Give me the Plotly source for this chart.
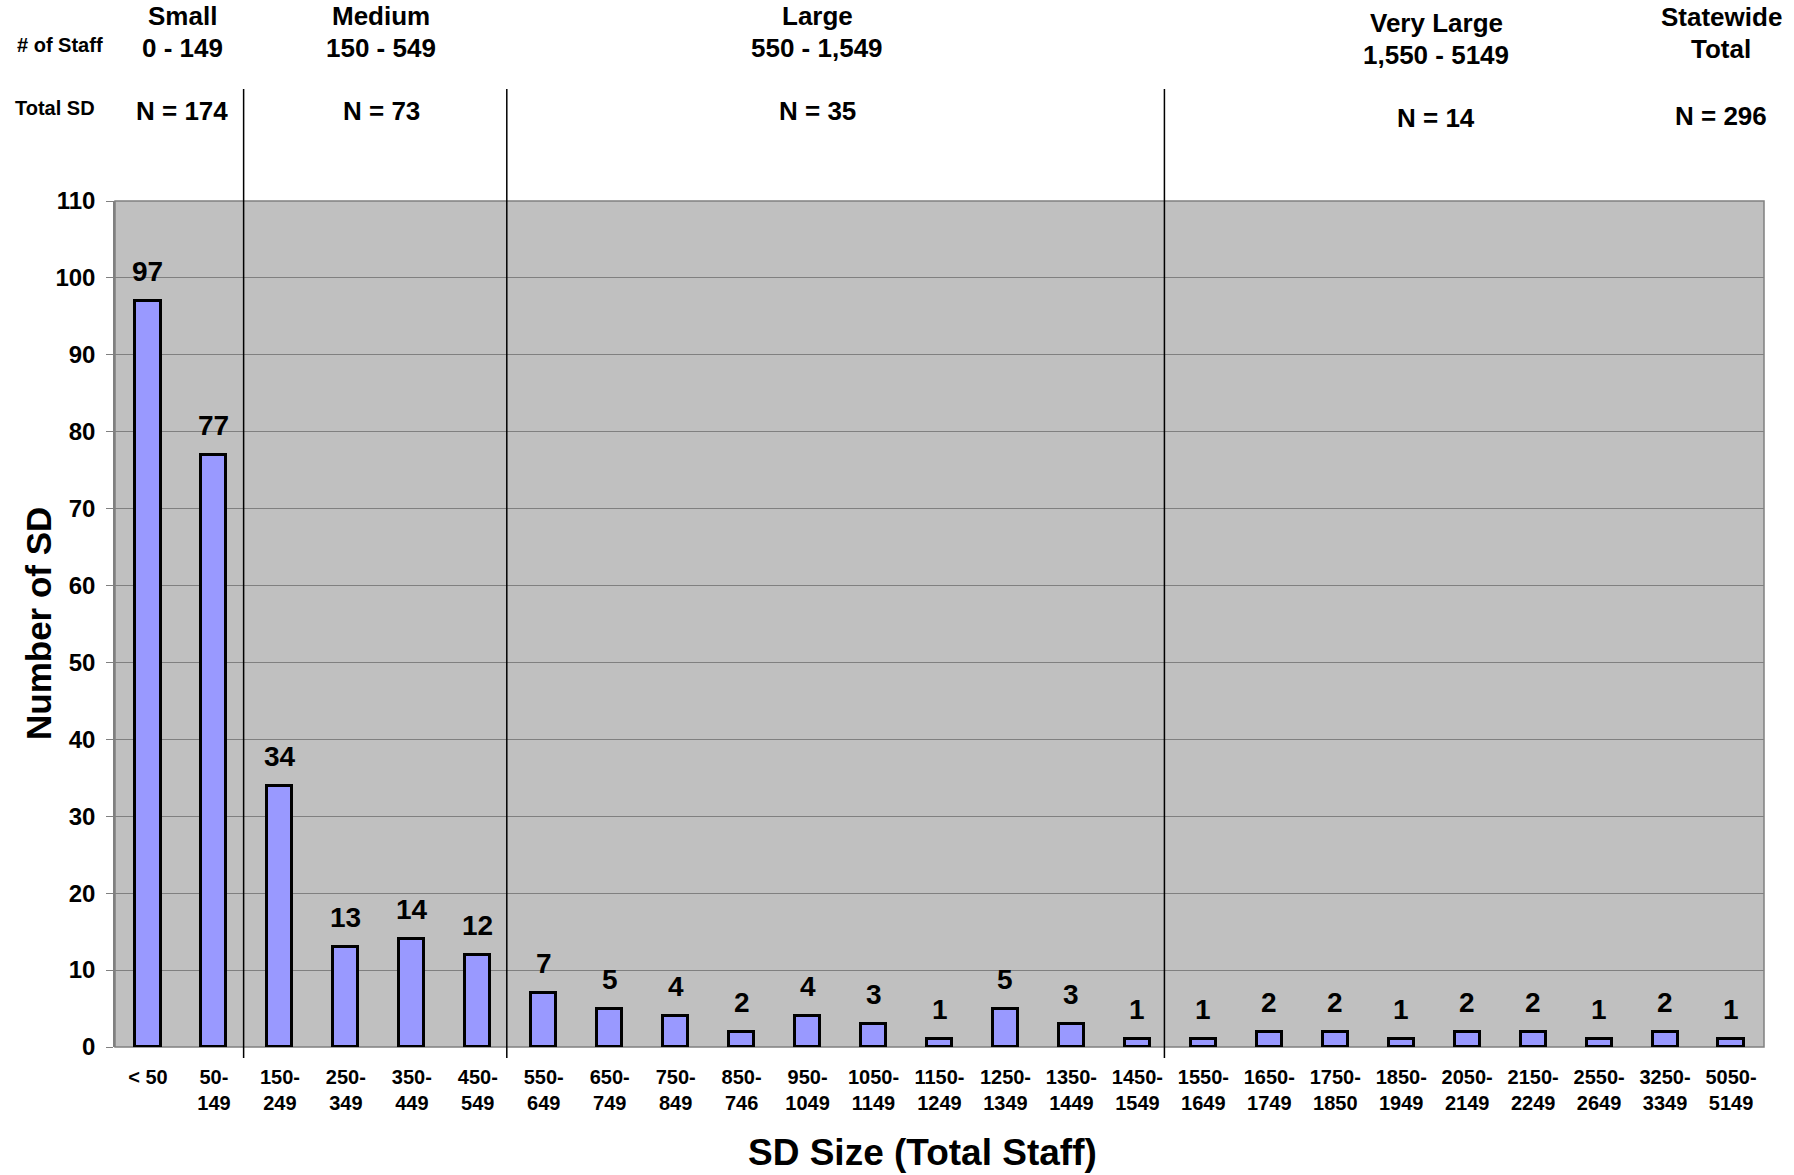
import plotly.graph_objects as go

# School districts grouped by total staff size
size_bins = [
    "< 50", "50-<br>149", "150-<br>249", "250-<br>349", "350-<br>449", "450-<br>549",
    "550-<br>649", "650-<br>749", "750-<br>849", "850-<br>746", "950-<br>1049",
    "1050-<br>1149", "1150-<br>1249", "1250-<br>1349", "1350-<br>1449", "1450-<br>1549",
    "1550-<br>1649", "1650-<br>1749", "1750-<br>1850", "1850-<br>1949", "2050-<br>2149",
    "2150-<br>2249", "2550-<br>2649", "3250-<br>3349", "5050-<br>5149",
]
district_counts = [97, 77, 34, 13, 14, 12, 7, 5, 4, 2, 4, 3, 1, 5, 3, 1,
                   1, 2, 2, 1, 2, 2, 1, 2, 1]

# Size groups: name, staff range, number of districts
group_names = ["Small", "Medium", "Large", "Very Large", "Statewide"]
group_ranges = ["0 - 149", "150 - 549", "550 - 1,549", "1,550 - 5149", "Total"]
group_totals = ["N = 174", "N = 73", "N = 35", "N = 14", "N = 296"]
# Boundaries between groups, in category positions
group_breaks = [1.45, 5.44, 15.41]

W, H = 1794, 1175
L, R, T, B = 115, 30, 201, 128
PW, PH = W - L - R, H - T - B

def px(xp):
    return (xp - L) / PW

def py(yp):
    return (H - B - yp) / PH

ARIAL = "Liberation Sans, Arial, sans-serif"

fig = go.Figure()
fig.add_trace(go.Bar(
    x=list(range(len(size_bins))),
    y=district_counts,
    width=0.38,
    marker=dict(color="#9999FF", line=dict(color="#000000", width=3)),
    hoverinfo="skip",
))

annotations = []
# value labels above bars
for i, v in enumerate(district_counts):
    annotations.append(dict(
        x=i, y=v, xref="x", yref="y", text=f"<b>{v}</b>", showarrow=False,
        yanchor="bottom", yshift=12, font=dict(family=ARIAL, size=28, color="#000"),
    ))

# header block
head_x = [182, 381, 817, 1436, 1721]
row1_y = [16, 16, 16, 23, 17]
row2_y = [48, 48, 48, 55, 49]
row3_y = [111, 111, 111, 118, 116]
hfont = dict(family=ARIAL, size=26, color="#000")
for k in range(len(group_names)):
    for text, yy in ((group_names[k], row1_y[k]), (group_ranges[k], row2_y[k]),
                     (group_totals[k], row3_y[k])):
        annotations.append(dict(x=px(head_x[k]), y=py(yy), xref="paper", yref="paper",
                                text=f"<b>{text}</b>", showarrow=False, font=hfont,
                                xanchor="center", yanchor="middle"))

sfont = dict(family=ARIAL, size=20, color="#000")
annotations.append(dict(x=px(60), y=py(45), xref="paper", yref="paper", text="<b># of Staff</b>",
                        showarrow=False, font=sfont, xanchor="center", yanchor="middle"))
annotations.append(dict(x=px(55), y=py(108), xref="paper", yref="paper", text="<b>Total SD</b>",
                        showarrow=False, font=sfont, xanchor="center", yanchor="middle"))

# axis titles
annotations.append(dict(x=px(922), y=py(1152), xref="paper", yref="paper",
                        text="<b>SD Size (Total Staff)</b>", showarrow=False,
                        font=dict(family=ARIAL, size=37, color="#000"),
                        xanchor="center", yanchor="middle"))
annotations.append(dict(x=px(38), y=py(624), xref="paper", yref="paper",
                        text="<b>Number of SD</b>", showarrow=False, textangle=-90,
                        font=dict(family=ARIAL, size=35, color="#000"),
                        xanchor="center", yanchor="middle"))

shapes = []
for xb in group_breaks:
    shapes.append(dict(type="line", xref="x", yref="paper", x0=xb, x1=xb,
                       y0=py(1058), y1=py(89), line=dict(color="#000", width=1.5)))
# plot frame
shapes.append(dict(type="rect", xref="paper", yref="paper", x0=0, x1=1, y0=0, y1=1,
                   line=dict(color="#808080", width=1.5), layer="below"))

fig.update_layout(
    width=W, height=H,
    margin=dict(l=L, r=R, t=T, b=B, pad=0),
    paper_bgcolor="#FFFFFF",
    plot_bgcolor="#C0C0C0",
    showlegend=False,
    annotations=annotations,
    shapes=shapes,
    bargap=0,
)
fig.update_xaxes(
    range=[-0.5, len(size_bins) - 0.5],
    tickmode="array", tickvals=list(range(len(size_bins))),
    ticktext=[f"<b>{s}</b>" for s in size_bins],
    tickfont=dict(family=ARIAL, size=20, color="#000"),
    showgrid=False, zeroline=False, showline=False, ticks="",
    ticklabelstandoff=16,
)
fig.update_yaxes(
    range=[0, 110], tickmode="linear", tick0=0, dtick=10,
    tickfont=dict(family=ARIAL, size=24, color="#000"),
    tickprefix="<b>", ticksuffix="</b>",
    showgrid=True, gridcolor="#808080", gridwidth=1,
    zeroline=False, showline=True, linecolor="#808080", linewidth=1.5,
    ticks="outside", ticklen=7, tickcolor="#808080",
    ticklabelstandoff=6,
)

fig.write_html("out.html")
